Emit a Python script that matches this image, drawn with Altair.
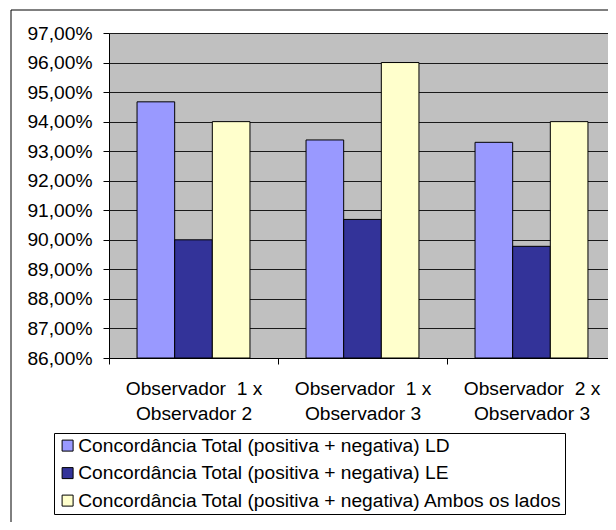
import altair as alt
import pandas as pd

groups = ["Observador\u00a0 1 x|Observador 2",
          "Observador\u00a0 1 x|Observador 3",
          "Observador\u00a0 2 x|Observador 3"]
series = ["Concordância Total (positiva + negativa) LD",
          "Concordância Total (positiva + negativa) LE",
          "Concordância Total (positiva + negativa) Ambos os lados"]
ld = [0.9467, 0.9338, 0.9330]
le = [0.9000, 0.9069, 0.8978]
ambos = [0.9400, 0.9600, 0.9400]
colors = ["#9999FF", "#333399", "#FFFFCC"]
y_ticks = [0.86, 0.87, 0.88, 0.89, 0.90, 0.91, 0.92, 0.93, 0.94, 0.95, 0.96, 0.97]

rows = []
for s, vals in zip(series, [ld, le, ambos]):
    for g, v in zip(groups, vals):
        rows.append({"grupo": g, "serie": s, "valor": v})
df = pd.DataFrame(rows)

FONT = "Liberation Sans"
FS = 19.2

bars = alt.Chart(df).mark_bar(stroke="black", strokeWidth=1).encode(
    x=alt.X("grupo:N", sort=groups, title=None,
            scale=alt.Scale(paddingInner=0, paddingOuter=0, range=[0, 507]),
            axis=alt.Axis(labelAngle=0, tickBand="extent", labelExpr="split(datum.label, '|')",
                          labelLineHeight=25, labelPadding=15, tickSize=6,
                          domainColor="black", tickColor="black", grid=False)),
    xOffset=alt.XOffset("serie:N", sort=series,
                        scale=alt.Scale(paddingInner=0, paddingOuter=0.745)),
    y=alt.Y("valor:Q", title=None,
            scale=alt.Scale(domain=[0.86, 0.97], nice=False, zero=False),
            axis=alt.Axis(values=y_ticks, labelExpr="replace(format(datum.value, '.2%'), '.', ',')",
                          tickSize=6, labelPadding=11, domainColor="black", tickColor="black",
                          grid=True, gridColor="#1a1a1a", gridOpacity=1)),
    y2=alt.datum(0.86),
    color=alt.Color("serie:N", sort=series,
                    scale=alt.Scale(domain=series, range=colors),
                    legend=alt.Legend(title=None, orient="none", legendX=-55, legendY=400,
                                      direction="vertical", strokeColor="black", fillColor="white",
                                      padding=3, labelFontSize=FS, labelFont=FONT, labelLimit=700,
                                      symbolType="square", symbolSize=121, symbolStrokeColor="black",
                                      symbolStrokeWidth=1, symbolOffset=1, rowPadding=7.5,
                                      labelOffset=1)),
)

frame = alt.Chart(pd.DataFrame({"f": [0]})).mark_rect(
    fill="white", fillOpacity=0, stroke="black", strokeWidth=1
).encode(x=alt.value(-98), x2=alt.value(800), y=alt.value(-23), y2=alt.value(800))

chart = alt.layer(frame, bars).properties(
    width=499, height=325,
    autosize=alt.AutoSizeParams(type="none"),
    padding={"left": 101, "top": 25, "right": 0, "bottom": 164},
    background="white",
).configure_view(
    fill="#C0C0C0", stroke="transparent", strokeWidth=0
).configure_axis(
    labelFont=FONT, labelFontSize=FS, labelColor="black"
)

chart.save("out.html", embed_options={"renderer": "svg", "actions": False})
